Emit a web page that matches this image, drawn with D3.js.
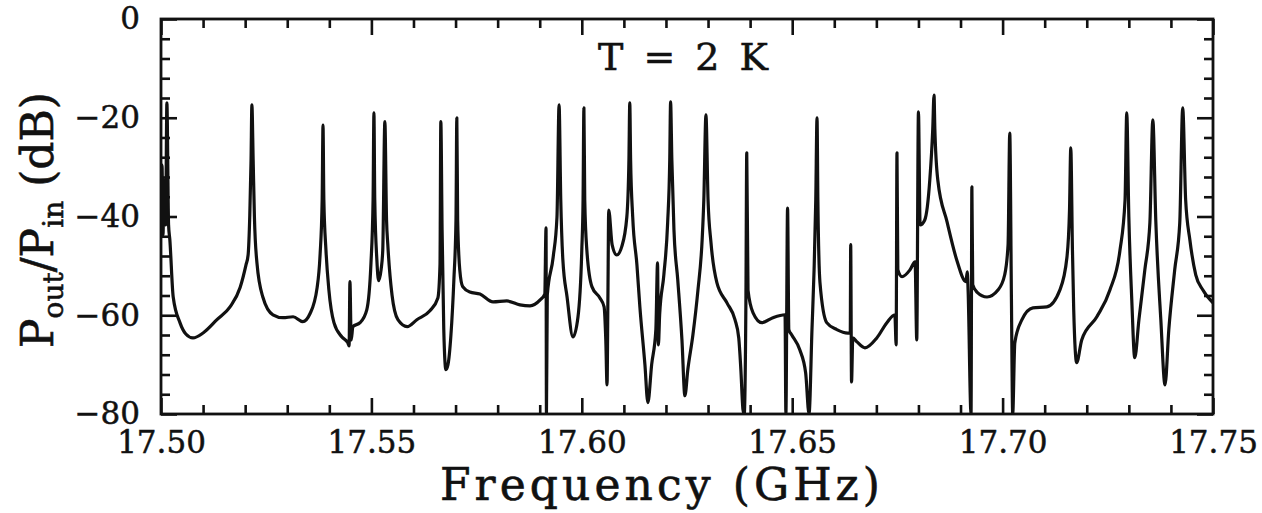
<!DOCTYPE html>
<html>
<head>
<meta charset="utf-8">
<script src="https://cdn.jsdelivr.net/npm/d3@7"></script>
<style>
html,body{margin:0;padding:0;background:#fff;}
svg{display:block;}
text{font-family:"DejaVu Serif",serif;fill:#111;}
</style>
</head>
<body>
<svg id="chart" width="1262" height="513"></svg>
<script>
// ---- data ----
const freq = [
17.5000,17.50024,17.50048,17.5007,17.5011,17.5014,17.5018,17.5021,17.5029,17.5045,
17.5059,17.5076,17.5100,17.5133,17.5164,17.5188,17.5202,17.5207,17.5211,17.5214,
17.5216,17.5219,17.5222,17.5228,17.5242,17.5266,17.5290,17.5314,17.5337,17.5354,
17.5371,17.5378,17.5383,17.5385,17.5387,17.5392,17.5399,17.5411,17.5430,17.5444,
17.5447,17.5449,17.5452,17.5456,17.5473,17.5489,17.5499,17.5504,17.5506,17.5508,
17.5513,17.5517,17.5523,17.5527,17.5532,17.5536,17.5539,17.5549,17.5563,17.5585,
17.5608,17.5639,17.5658,17.5663,17.5665,17.5668,17.5672,17.5677,17.5682,17.5689,
17.5696,17.5701,17.5703,17.5705,17.5710,17.5717,17.5734,17.5758,17.5789,17.5822,
17.5853,17.5877,17.5901,17.5912,17.5915,17.5916,17.5918,17.5932,17.5941,17.5946,
17.5950,17.5955,17.5965,17.5979,17.5991,17.6000,17.6003,17.6005,17.6007,17.6012,
17.6024,17.6043,17.6053,17.6057,17.6060,17.6062,17.6064,17.6072,17.6083,17.6095,
17.6107,17.6112,17.6114,17.6116,17.6121,17.6131,17.6138,17.6150,17.6157,17.6166,
17.6176,17.6180,17.6182,17.6185,17.6195,17.6204,17.6209,17.6211,17.6214,17.6219,
17.6228,17.6238,17.6245,17.6252,17.6264,17.6276,17.6286,17.6290,17.6295,17.6300,
17.6307,17.6321,17.6345,17.6364,17.6373,17.6378,17.6383,17.6386,17.6390,17.6392,
17.6395,17.6407,17.6428,17.6454,17.6483,17.6485,17.6489,17.6492,17.6499,17.6518,
17.6532,17.6540,17.6547,17.6552,17.6556,17.6559,17.6561,17.6566,17.6582,17.6606,
17.6632,17.6638,17.6639,17.6641,17.6644,17.6654,17.6673,17.6701,17.6725,17.6744,
17.6747,17.6749,17.6751,17.6761,17.6780,17.6792,17.6796,17.6800,17.6804,17.6815,
17.6827,17.6834,17.6837,17.6839,17.6846,17.6868,17.6891,17.6913,17.6916,17.6918,
17.6925,17.6927,17.6929,17.6939,17.6963,17.6989,17.7005,17.7013,17.7017,17.7021,
17.7024,17.7029,17.7046,17.7072,17.7105,17.7136,17.7153,17.7159,17.7162,17.7166,
17.7169,17.7176,17.7188,17.7224,17.7255,17.7279,17.7291,17.7295,17.7300,17.7307,
17.7314,17.7324,17.7338,17.7350,17.7357,17.7364,17.7376,17.7386,17.7395,17.7409,
17.7421,17.7428,17.7435,17.7445,17.7459,17.7476,17.7500
];
const powerDb = [
-42.7,-29.6,-43.7,-32.6,-41.7,-17.0,-41.7,-44.7,-56.3,-61.5,
-63.8,-64.6,-63.6,-60.9,-58.3,-54.4,-49.8,-47.8,-39.7,-28.5,
-17.4,-28.5,-40.1,-49.4,-56.3,-59.9,-60.5,-60.3,-61.3,-59.7,
-54.4,-47.8,-36.6,-21.5,-36.6,-46.8,-54.9,-61.5,-64.4,-65.6,
-66.2,-53.2,-65.0,-62.3,-61.5,-58.9,-49.4,-36.6,-19.0,-36.6,
-48.8,-53.0,-50.8,-46.8,-20.8,-40.7,-45.7,-55.9,-60.9,-62.3,
-60.9,-59.1,-56.5,-49.8,-20.8,-42.7,-62.9,-71.0,-70.0,-64.0,
-52.8,-40.7,-20.0,-40.7,-50.8,-54.2,-55.3,-55.7,-57.3,-57.1,
-57.9,-58.1,-56.9,-55.7,-42.3,-80.0,-55.9,-48.2,-40.1,-17.4,
-36.6,-48.8,-56.3,-64.4,-60.3,-46.8,-36.6,-18.0,-36.6,-46.8,
-54.2,-56.5,-58.3,-65.0,-74.1,-56.9,-38.7,-45.7,-47.8,-46.1,
-40.1,-28.5,-17.0,-28.5,-40.1,-49.8,-58.3,-70.0,-77.7,-70.0,
-62.9,-49.4,-66.0,-59.9,-51.8,-41.3,-28.5,-16.8,-28.5,-42.7,
-52.8,-65.0,-76.3,-71.0,-64.0,-54.9,-44.7,-36.6,-19.4,-36.6,
-45.3,-53.4,-57.5,-60.9,-64.6,-71.0,-79.1,-80.0,-56.9,-27.1,
-54.9,-59.5,-61.5,-60.5,-59.9,-80.0,-38.3,-62.9,-64.0,-67.0,
-71.7,-80.0,-62.9,-50.8,-36.6,-20.0,-36.6,-53.4,-61.5,-62.9,
-63.6,-63.6,-45.7,-73.5,-64.6,-65.4,-66.6,-64.6,-61.5,-59.9,
-66.0,-27.1,-50.8,-52.2,-50.8,-49.2,-65.0,-18.8,-41.7,-40.7,
-32.6,-22.3,-15.4,-22.3,-32.6,-41.1,-48.8,-53.2,-51.2,-54.9,
-80.0,-34.0,-53.8,-55.3,-56.3,-54.9,-51.8,-45.7,-23.1,-56.9,
-80.0,-65.6,-60.9,-58.5,-58.3,-54.9,-48.2,-38.7,-26.1,-46.8,
-58.9,-69.6,-65.0,-60.3,-54.9,-46.8,-36.6,-19.0,-40.1,-56.9,
-68.6,-60.9,-50.8,-41.3,-20.4,-40.7,-60.9,-74.1,-62.9,-50.8,
-41.3,-18.0,-36.6,-44.7,-51.8,-54.9,-57.5
];
const xMajorTicks = [17.50, 17.55, 17.60, 17.65, 17.70, 17.75];
const xTickLabels = ["17.50", "17.55", "17.60", "17.65", "17.70", "17.75"];
const xMinorTicks = [17.51,17.52,17.53,17.54,17.56,17.57,17.58,17.59,17.61,17.62,17.63,17.64,17.66,17.67,17.68,17.69,17.71,17.72,17.73,17.74];
const yMajorTicks = [-80, -60, -40, -20, 0];
const yTickLabels = ["\u221280", "\u221260", "\u221240", "\u221220", "0"];
const yMinorTicks = [-76,-72,-68,-64,-56,-52,-48,-44,-36,-32,-28,-24,-16,-12,-8,-4];
const annotation = "T = 2 K";
const xTitle = "Frequency (GHz)";

// ---- drawing ----
const L = 161, R = 1213, T = 19, B = 414;
const svg = d3.select("#chart");
const x = d3.scaleLinear().domain([17.5, 17.75]).range([L, R]);
const y = d3.scaleLinear().domain([-80, 0]).range([B, T]);
const pts = freq.map((f, i) => [f, powerDb[i]]);

svg.append("defs").append("clipPath").attr("id", "clip")
  .append("rect").attr("x", L).attr("y", T).attr("width", R - L).attr("height", B - T);

const stroke = "#111";
const MAJ = 16, MIN = 9;

function styleAxis(g) {
  g.select(".domain").remove();
  g.selectAll(".tick line").attr("stroke", stroke).attr("stroke-width", 2.6);
}
function styleLabels(g) {
  g.selectAll("text").attr("font-family", "DejaVu Serif").attr("font-size", 31)
    .attr("fill", stroke).attr("stroke", stroke).attr("stroke-width", 0.5);
}

// bottom
svg.append("g").attr("transform", `translate(0,${B})`)
  .call(d3.axisBottom(x).tickValues(xMajorTicks).tickSize(-MAJ).tickPadding(17)
    .tickFormat((d, i) => xTickLabels[i]))
  .call(styleAxis).call(styleLabels);
svg.append("g").attr("transform", `translate(0,${B})`)
  .call(d3.axisBottom(x).tickValues(xMinorTicks).tickSize(-MIN).tickFormat(""))
  .call(styleAxis);
// top
svg.append("g").attr("transform", `translate(0,${T})`)
  .call(d3.axisTop(x).tickValues(xMajorTicks).tickSize(-MAJ).tickFormat(""))
  .call(styleAxis);
svg.append("g").attr("transform", `translate(0,${T})`)
  .call(d3.axisTop(x).tickValues(xMinorTicks).tickSize(-MIN).tickFormat(""))
  .call(styleAxis);
// left
svg.append("g").attr("transform", `translate(${L},0)`)
  .call(d3.axisLeft(y).tickValues(yMajorTicks).tickSize(-MAJ).tickPadding(21)
    .tickFormat((d, i) => yTickLabels[i]))
  .call(styleAxis).call(styleLabels);
svg.append("g").attr("transform", `translate(${L},0)`)
  .call(d3.axisLeft(y).tickValues(yMinorTicks).tickSize(-MIN).tickFormat(""))
  .call(styleAxis);
// right
svg.append("g").attr("transform", `translate(${R},0)`)
  .call(d3.axisRight(y).tickValues(yMajorTicks).tickSize(-MAJ).tickFormat(""))
  .call(styleAxis);
svg.append("g").attr("transform", `translate(${R},0)`)
  .call(d3.axisRight(y).tickValues(yMinorTicks).tickSize(-MIN).tickFormat(""))
  .call(styleAxis);

// frame
svg.append("rect").attr("x", L).attr("y", T).attr("width", R - L).attr("height", B - T)
  .attr("fill", "none").attr("stroke", stroke).attr("stroke-width", 2.8);

// spectrum
svg.append("path").datum(pts)
  .attr("clip-path", "url(#clip)")
  .attr("fill", "none").attr("stroke", stroke).attr("stroke-width", 3.2)
  .attr("stroke-linejoin", "round")
  .attr("d", d3.line().x(d => x(d[0])).y(d => y(d[1])).curve(d3.curveMonotoneX));

// annotation
svg.append("text").attr("x", 683).attr("y", 70).attr("text-anchor", "middle")
  .attr("font-size", 38).attr("textLength", 170).attr("lengthAdjust", "spacing")
  .attr("stroke", stroke).attr("stroke-width", 0.6)
  .text(annotation);

// x title
svg.append("text").attr("x", 660).attr("y", 500).attr("text-anchor", "middle")
  .attr("font-size", 44).attr("textLength", 440).attr("lengthAdjust", "spacing")
  .attr("stroke", stroke).attr("stroke-width", 0.6)
  .text(xTitle);

// y title
const yt = svg.append("text").attr("transform", "translate(53,220) rotate(-90)")
  .attr("text-anchor", "middle").attr("font-size", 44)
  .attr("stroke", stroke).attr("stroke-width", 0.6);
yt.append("tspan").text("P");
yt.append("tspan").attr("font-size", 28).attr("dy", 10).text("out");
yt.append("tspan").attr("dy", -10).text("/P");
yt.append("tspan").attr("font-size", 28).attr("dy", 10).text("in");
yt.append("tspan").attr("dy", -10).text("\u00a0(dB)");
</script>
</body>
</html>
